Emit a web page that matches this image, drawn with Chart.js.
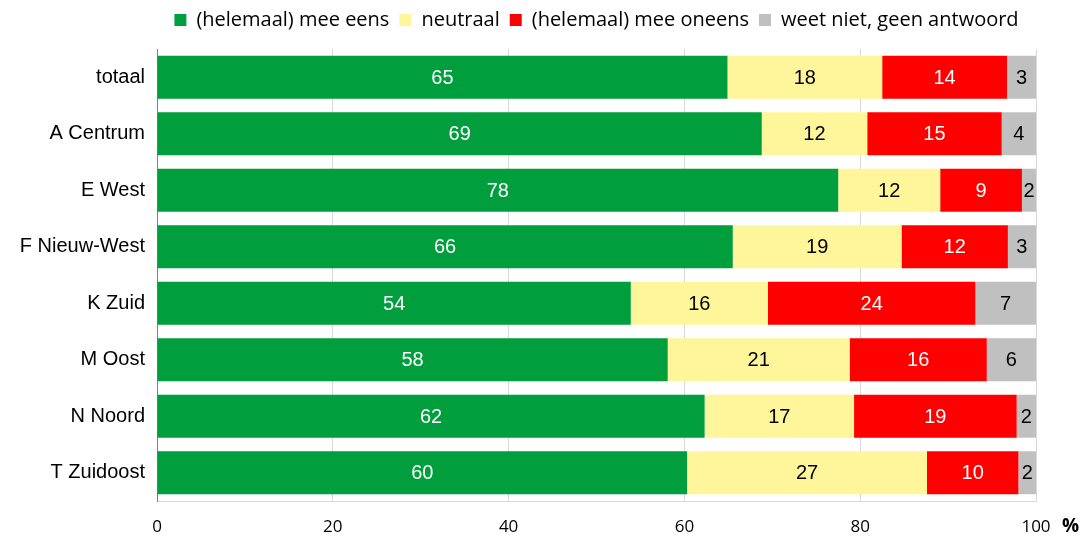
<!DOCTYPE html>
<html>
<head>
<meta charset="utf-8">
<script src="https://cdn.jsdelivr.net/npm/chart.js@4"></script>
<style>
  html, body { margin: 0; padding: 0; background: #fff; }
  #wrap { width: 1088px; height: 536px; }
</style>
</head>
<body>
<div id="wrap"><canvas id="myChart" width="1088" height="536"></canvas></div>
<script>
const categories = ["totaal", "A Centrum", "E West", "F Nieuw-West", "K Zuid", "M Oost", "N Noord", "T Zuidoost"];
const seriesNames = ["(helemaal) mee eens", "neutraal", "(helemaal) mee oneens", "weet niet, geen antwoord"];
const eens = [64.9, 68.8, 77.5, 65.5, 53.9, 58.1, 62.3, 60.3];
const neutraal = [17.6, 12.0, 11.6, 19.2, 15.6, 20.7, 17.0, 27.3];
const oneens = [14.2, 15.3, 9.3, 12.1, 23.6, 15.6, 18.5, 10.4];
const weetNiet = [3.3, 3.9, 1.6, 3.2, 6.9, 5.6, 2.2, 2.0];
const xTicks = [0, 20, 40, 60, 80, 100];

const colors = ["#009e3d", "#fff59b", "#ff0000", "#c0c0c0"];
const labelColors = ["#ffffff", "#000000", "#ffffff", "#000000"];

const ctx = document.getElementById("myChart");

// draws the value in the middle of each bar segment
const valueLabels = {
  id: "valueLabels",
  afterDatasetsDraw(chart) {
    const c = chart.ctx;
    c.save();
    c.font = "20px 'Liberation Sans', Arial, sans-serif";
    c.textAlign = "center";
    c.textBaseline = "middle";
    chart.data.datasets.forEach((ds, i) => {
      chart.getDatasetMeta(i).data.forEach((bar, j) => {
        const mid = (bar.x + bar.base) / 2;
        c.fillStyle = labelColors[i];
        c.fillText(Math.round(ds.data[j]), mid, bar.y + 1);
      });
    });
    // percent sign after the axis
    c.font = "bold 19px 'Open Sans', sans-serif";
    c.fillStyle = "#000";
    c.textAlign = "left";
    c.fillText("%", chart.chartArea.right + 26, 527);
    c.restore();
  },
};

new Chart(ctx, {
  type: "bar",
  data: {
    labels: categories,
    datasets: [eens, neutraal, oneens, weetNiet].map((d, i) => ({
      label: seriesNames[i],
      data: d,
      backgroundColor: colors[i],
      borderWidth: 0,
      categoryPercentage: 0.76,
      barPercentage: 1,
    })),
  },
  options: {
    indexAxis: "y",
    responsive: false,
    animation: false,
    devicePixelRatio: 1,
    layout: { padding: { left: 0, right: 52, top: 0, bottom: 0 } },
    plugins: {
      legend: {
        position: "top",
        fullSize: false,
        labels: {
          boxWidth: 12,
          boxHeight: 12,
          padding: 10,
          color: "#000",
          font: { family: "'Open Sans', sans-serif", size: 20 },
        },
      },
      tooltip: { enabled: false },
    },
    scales: {
      x: {
        stacked: true,
        min: 0,
        max: 100,
        afterBuildTicks: (s) => { s.ticks = xTicks.map((v) => ({ value: v })); },
        afterFit: (s) => { s.height = 35; },
        grid: { color: "#d9d9d9", drawTicks: false },
        border: { color: "#d9d9d9" },
        ticks: {
          padding: 16,
          color: "#000",
          font: { family: "'Open Sans', sans-serif", size: 17 },
        },
      },
      xTop: {
        axis: "x",
        position: "top",
        display: true,
        grid: { display: false },
        border: { display: false },
        ticks: { display: false },
        afterFit: (s) => { s.height = 9; },
      },
      y: {
        stacked: true,
        afterFit: (s) => { s.width = 157; },
        grid: { display: false, drawTicks: false },
        border: { color: "#808080" },
        ticks: {
          padding: 12,
          color: "#000",
          font: { family: "'Liberation Sans', Arial, sans-serif", size: 20 },
        },
      },
    },
  },
  plugins: [valueLabels],
});
</script>
</body>
</html>
